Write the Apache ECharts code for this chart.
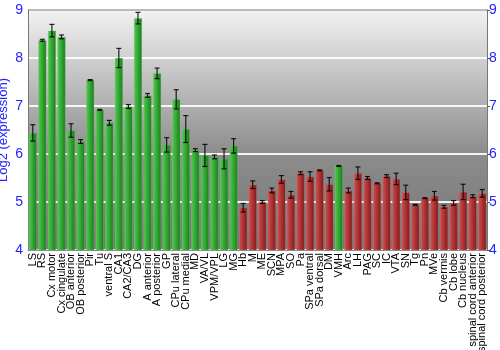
<!DOCTYPE html>
<html>
<head>
<meta charset="utf-8">
<script src="https://cdn.jsdelivr.net/npm/echarts@6/dist/echarts.min.js"></script>
<style>
  html, body { margin: 0; padding: 0; background: #fff; }
</style>
</head>
<body>
<div id="main" style="width: 500px; height: 350px"></div>
<script>
// brain regions (x categories)
var regions = ['LS', 'RS', 'Cx motor', 'Cx cingulate', 'OB anterior', 'OB posterior', 'Pir', 'Tu',
  'ventral S', 'CA1', 'CA2/CA3', 'DG', 'A anterior', 'A posterior', 'GP', 'CPu lateral', 'CPu medial',
  'MD', 'VA/VL', 'VPM/VPL', 'LG', 'MG', 'Hb', 'M', 'ME', 'SCN', 'MPA', 'SO', 'Pa', 'SPa ventral',
  'SPa dorsal', 'DM', 'VMH', 'Arc', 'LH', 'PAG', 'SC', 'IC', 'VTA', 'SN', 'Tg', 'Pn', 'MVe',
  'Cb vermis', 'Cb lobe', 'Cb nucleus', 'spinal cord anterior', 'spinal cord posterior'];

// mean log2 expression
var expression = [6.44, 8.37, 8.57, 8.44, 6.49, 6.26, 7.54, 6.92,
  6.65, 8.0, 6.99, 8.83, 7.22, 7.68, 6.19, 7.14, 6.52,
  6.08, 5.97, 5.94, 5.9, 6.17, 4.88, 5.36, 5.0, 5.24, 5.47, 5.15, 5.6, 5.53,
  5.66, 5.37, 5.75, 5.24, 5.6, 5.5, 5.39, 5.54, 5.48, 5.2, 4.94, 5.08, 5.13,
  4.9, 4.98, 5.21, 5.12, 5.18];

// error (+/-)
var errors = [0.17, 0.02, 0.13, 0.04, 0.14, 0.04, 0.01, 0.01,
  0.05, 0.2, 0.04, 0.12, 0.04, 0.11, 0.15, 0.2, 0.28,
  0.03, 0.23, 0.04, 0.21, 0.15, 0.09, 0.08, 0.03, 0.05, 0.08, 0.07, 0.03, 0.1,
  0.01, 0.14, 0.01, 0.05, 0.13, 0.03, 0.01, 0.03, 0.12, 0.15, 0.01, 0.01, 0.09,
  0.03, 0.05, 0.16, 0.03, 0.08];

// 1 = green (high group), 0 = red
var group = [1, 1, 1, 1, 1, 1, 1, 1, 1, 1, 1, 1, 1, 1, 1, 1, 1, 1, 1, 1, 1, 1,
  0, 0, 0, 0, 0, 0, 0, 0, 0, 0, 1, 0, 0, 0, 0, 0, 0, 0, 0, 0, 0, 0, 0, 0, 0, 0];

var yTicks = [4, 5, 6, 7, 8, 9];

var chart = echarts.init(document.getElementById('main'));

function barGrad(c1, c2, c3) {
  return new echarts.graphic.LinearGradient(0, 0, 1, 0, [
    { offset: 0, color: c1 },
    { offset: 0.45, color: c2 },
    { offset: 1, color: c3 }
  ]);
}
var greenFill = barGrad('#55c855', '#35aa35', '#1c7a1c');
var redFill = barGrad('#cc5252', '#b33434', '#7c1c1c');

var barData = expression.map(function (v, i) {
  return {
    value: v,
    itemStyle: {
      color: group[i] ? greenFill : redFill,
      borderColor: group[i] ? 'rgba(120,210,120,0.6)' : 'rgba(210,120,120,0.6)',
      borderWidth: 0.5
    }
  };
});
var errData = expression.map(function (v, i) {
  return [i, v - errors[i], v + errors[i]];
});

var axisText = { color: '#2222ff', fontSize: 14, fontFamily: 'Liberation Sans, Arial, sans-serif' };

var option = {
  animation: false,
  grid: {
    left: 28, right: 13, top: 10, bottom: 100,
    containLabel: false,
    outerBoundsMode: 'none',
    show: true,
    borderWidth: 0,
    backgroundColor: new echarts.graphic.LinearGradient(0, 0, 0, 1, [
      { offset: 0, color: '#f2f2f2' },
      { offset: 0.6, color: '#8c8c8c' },
      { offset: 1, color: '#767676' }
    ])
  },
  xAxis: {
    type: 'category',
    data: regions,
    axisLine: { show: true, lineStyle: { color: '#888' } },
    axisTick: { show: false },
    axisLabel: {
      interval: 0, rotate: 90, color: '#000', fontSize: 11, margin: 3,
      fontFamily: 'Liberation Sans, Arial, sans-serif'
    }
  },
  yAxis: [{
    type: 'value', min: yTicks[0], max: yTicks[yTicks.length - 1], interval: 1,
    name: 'Log2 (expression)', nameLocation: 'middle', nameGap: 18,
    nameMoveOverlap: false,
    nameTextStyle: { color: '#2222ff', fontSize: 13, fontFamily: 'Liberation Sans, Arial, sans-serif' },
    axisLine: { show: true, lineStyle: { color: '#777' } },
    axisTick: { show: false },
    axisLabel: Object.assign({ margin: 5 }, axisText),
    splitLine: { show: true, lineStyle: { color: '#ffffff', width: 2, opacity: 0.9 } }
  }, {
    type: 'value', min: yTicks[0], max: yTicks[yTicks.length - 1], interval: 1,
    position: 'right',
    axisLine: { show: true, lineStyle: { color: '#777' } },
    axisTick: { show: true, length: 3, lineStyle: { color: '#555' } },
    axisLabel: Object.assign({ margin: 2 }, axisText),
    splitLine: { show: false }
  }],
  graphic: [{
    type: 'line', z: 50,
    shape: { x1: 28, y1: 10, x2: 487, y2: 10 },
    style: { stroke: '#777', lineWidth: 1 }
  }],
  series: [{
    type: 'bar',
    data: barData,
    barCategoryGap: '16%'
  }, {
    type: 'custom',
    data: errData,
    z: 10,
    renderItem: function (params, api) {
      var x = api.value(0);
      var lo = api.coord([x, api.value(1)]);
      var hi = api.coord([x, api.value(2)]);
      var cap = 2.5;
      var st = { stroke: 'rgba(0,0,0,0.85)', lineWidth: 1.2 };
      return {
        type: 'group',
        children: [
          { type: 'line', shape: { x1: lo[0], y1: lo[1], x2: hi[0], y2: hi[1] }, style: st },
          { type: 'line', shape: { x1: lo[0] - cap, y1: lo[1], x2: lo[0] + cap, y2: lo[1] }, style: st },
          { type: 'line', shape: { x1: hi[0] - cap, y1: hi[1], x2: hi[0] + cap, y2: hi[1] }, style: st }
        ]
      };
    }
  }]
};
chart.setOption(option);
</script>
</body>
</html>
